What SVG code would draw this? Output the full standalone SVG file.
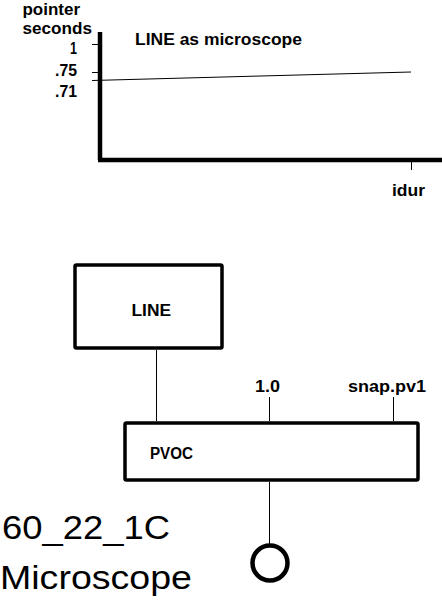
<svg xmlns="http://www.w3.org/2000/svg" width="442" height="613" viewBox="0 0 442 613">
<style>
.t{font-family:"Liberation Sans",Arial,sans-serif;font-size:16px;font-weight:bold;fill:#000}
.big{font-family:"Liberation Sans",Arial,sans-serif;font-size:34px;fill:#000}
.box{fill:#fff;stroke:#000;stroke-width:3.5}
.thin{stroke:#000;stroke-width:1;fill:none}
.axis{stroke:#000;stroke-width:4.5;fill:none}
</style>
<rect width="442" height="613" fill="#fff"/>
<g id="graph">
<line class="axis" x1="100" y1="32" x2="100" y2="160"/>
<line class="axis" x1="98" y1="160" x2="442" y2="160"/>
<line class="thin" x1="92" y1="44.5" x2="100" y2="44.5"/>
<line class="thin" x1="92" y1="72.5" x2="100" y2="72.5"/>
<line class="thin" x1="92" y1="80.5" x2="411" y2="72"/>
<line class="thin" x1="411.5" y1="162" x2="411.5" y2="170"/>
<text class="t" x="22.5" y="15" textLength="57.5" lengthAdjust="spacingAndGlyphs">pointer</text>
<text class="t" x="22.5" y="34" textLength="69.5" lengthAdjust="spacingAndGlyphs">seconds</text>
<text class="t" x="70" y="54" textLength="7" lengthAdjust="spacingAndGlyphs">1</text>
<text class="t" x="55" y="76" textLength="22" lengthAdjust="spacingAndGlyphs">.75</text>
<text class="t" x="55" y="96.5" textLength="22" lengthAdjust="spacingAndGlyphs">.71</text>
<text class="t" x="135" y="44.5" textLength="167" lengthAdjust="spacingAndGlyphs">LINE as microscope</text>
<text class="t" x="392" y="196" textLength="33" lengthAdjust="spacingAndGlyphs">idur</text>
</g>
<g id="connectors">
<line class="thin" x1="156.5" y1="350" x2="156.5" y2="421"/>
<line class="thin" x1="269.5" y1="397" x2="269.5" y2="421"/>
<line class="thin" x1="393.5" y1="397" x2="393.5" y2="421"/>
<line class="thin" x1="269.5" y1="482" x2="269.5" y2="545"/>
</g>
<g id="line-node">
<rect class="box" x="75" y="265" width="147" height="83" rx="1.5"/>
<text class="t" x="131.5" y="316" textLength="39.5" lengthAdjust="spacingAndGlyphs">LINE</text>
</g>
<g id="pvoc-node">
<rect class="box" x="125" y="423" width="293" height="57" rx="1.5"/>
<text class="t" x="150" y="459" textLength="43" lengthAdjust="spacingAndGlyphs">PVOC</text>
</g>
<g id="label-1-0">
<text class="t" x="255" y="392" textLength="25" lengthAdjust="spacingAndGlyphs">1.0</text>
</g>
<g id="label-snap">
<text class="t" x="348" y="392" textLength="78" lengthAdjust="spacingAndGlyphs">snap.pv1</text>
</g>
<g id="output">
<circle cx="270" cy="563" r="17.5" fill="none" stroke="#000" stroke-width="4.5"/>
</g>
<g id="title">
<text class="big" x="2" y="539" textLength="168" lengthAdjust="spacingAndGlyphs">60_22_1C</text>
<text class="big" x="0" y="589" textLength="192" lengthAdjust="spacingAndGlyphs">Microscope</text>
</g>
</svg>
